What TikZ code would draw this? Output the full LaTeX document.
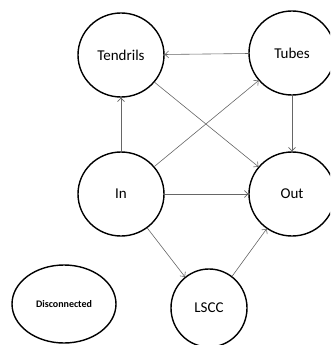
\documentclass[tikz,border=0pt]{standalone}
\usepackage{fontspec}
\setmainfont{Carlito}
\usetikzlibrary{shapes.geometric, arrows.meta}

\begin{document}
\begin{tikzpicture}[x=1pt, y=-1pt,
  comp/.style={draw=black, line width=1.4pt, ellipse, minimum width=86pt, minimum height=84pt, inner sep=0pt, font=\fontsize{15}{18}\selectfont},
  link/.style={draw=black!60, line width=0.6pt, -{Straight Barb[length=3.5pt, width=7pt]}}]
  \useasboundingbox (0,0) rectangle (330,345);
  \clip (0,0) rectangle (330,345);

  \node[comp] (tendrils) at (121, 55) {Tendrils};
  \node[comp] (tubes) at (292, 53) {Tubes};
  \node[comp] (in) at (121, 194) {In};
  \node[comp] (out) at (292, 194) {Out};
  \node[comp, minimum width=76pt, minimum height=78pt] (lscc) at (209, 308) {LSCC};
  \node[comp, minimum width=104pt, minimum height=78pt, font=\fontsize{10}{12}\selectfont\bfseries] (disc) at (64, 304) {Disconnected};

  \draw[link] (tubes) -- (tendrils);
  \draw[link] (in) -- (tendrils);
  \draw[link] (in) -- (tubes);
  \draw[link] (tendrils) -- (out);
  \draw[link] (tubes) -- (out);
  \draw[link] (in) -- (out);
  \draw[link] (in) -- (lscc);
  \draw[link] (lscc) -- (out);
\end{tikzpicture}
\end{document}
